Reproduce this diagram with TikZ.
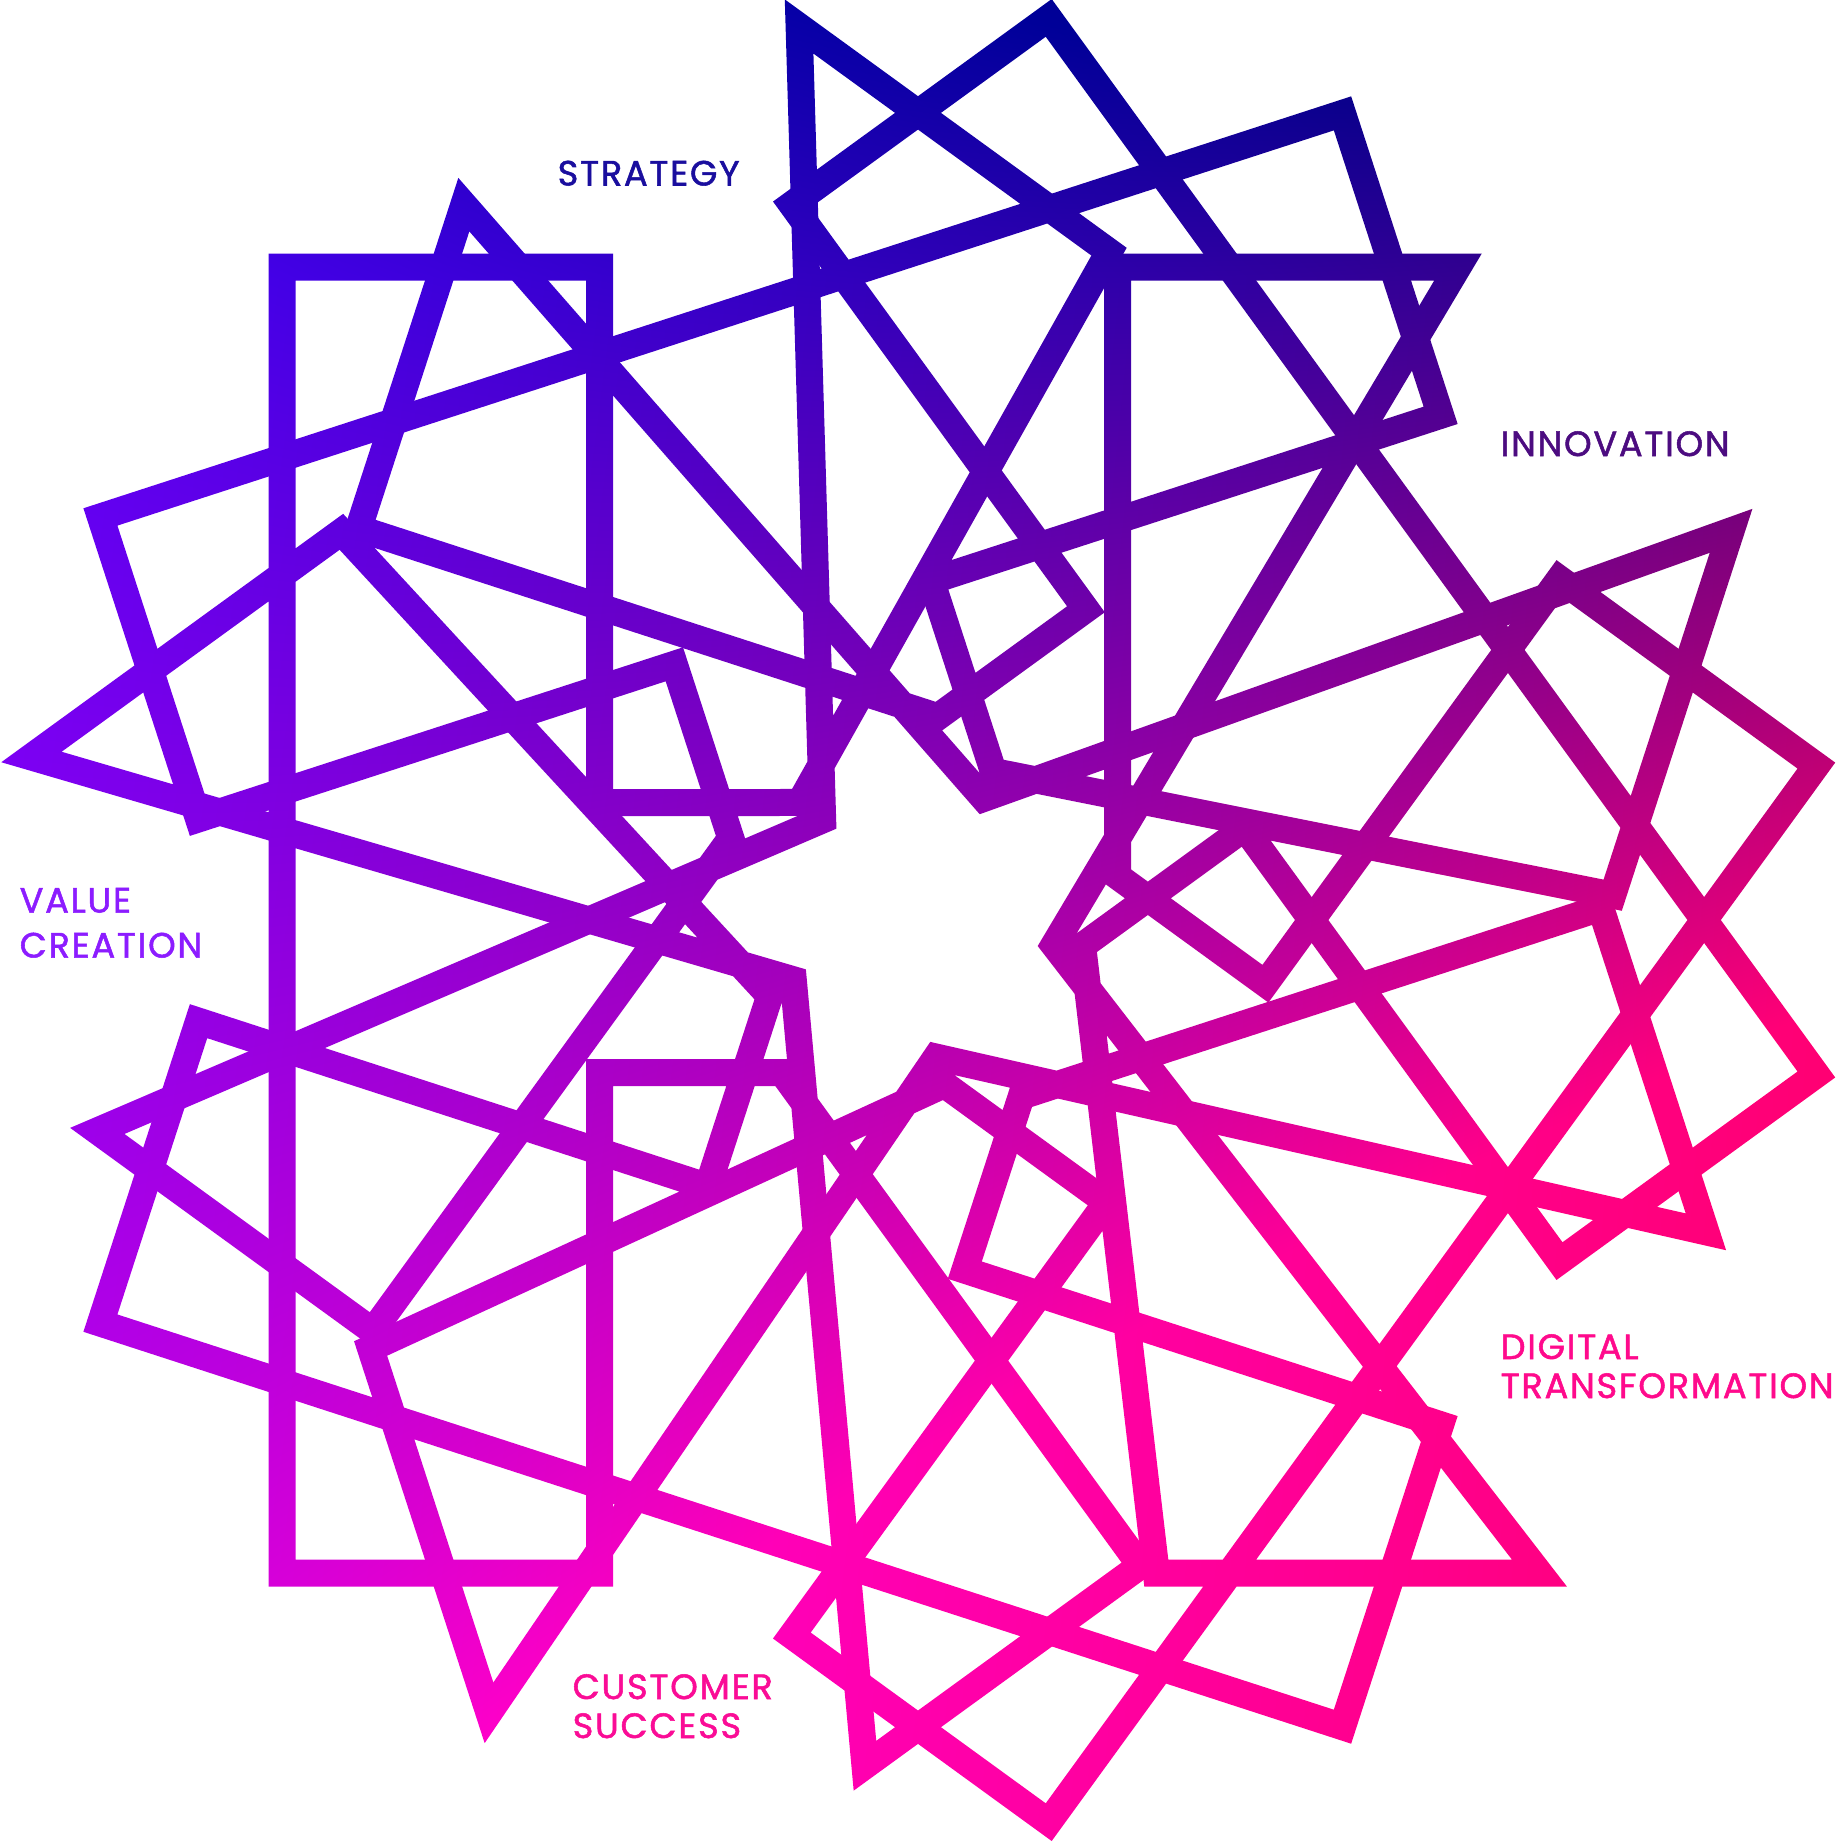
\documentclass[tikz,border=0pt]{standalone}
\usepackage{fontspec}
\newfontfamily\LabelFont[LetterSpace=5, FakeBold=1.5]{Poppins}
\usetikzlibrary{fadings}

\definecolor{StrategyBlue}{RGB}{26,14,158}
\definecolor{InnovationPurple}{RGB}{76,12,128}
\definecolor{ValueViolet}{RGB}{140,28,255}
\definecolor{DigitalPink}{RGB}{255,10,140}
\definecolor{CustomerPink}{RGB}{250,12,150}

% colour of the web: navy at the top, violet on the left, pink at the bottom right
% (u runs 0..1 left to right, w runs 0..1 top to bottom)
\pgfdeclarefunctionalshading{WebColours}{\pgfpointorigin}{\pgfpoint{100bp}{100bp}}{}{
75 exch sub 50 div
exch 25 sub 50 div
2 copy
dup dup mul 0.375 mul
exch 0.65 mul sub 0.231 add
exch
2 index 1.3 mul 0.62 add
mul add
3 1 roll
0.52 mul 0.99 exch sub
exch
dup 0.08 mul 1 exch sub
exch 0.85 add dup 1 gt {pop 1} if
mul mul
0 exch
}

% the strokes of the web, used as a mask for the colours
\begin{tikzfadingfrompicture}[name=StarWeb, x=0.1mm, y=-0.1mm,
  WebLine/.style={draw=transparent!0, line width=2.7mm, line join=miter, line cap=rect}]
\useasboundingbox (0,0) rectangle (1836,1845);
\coordinate (C) at (918,920);
% one bar and two triangles per arm, the arm is turned by 72 degrees
\foreach \k in {0,...,4}{
  \begin{scope}[rotate around={72*\k:(C)}]
    % the bar
    \coordinate (J\k) at (599.5,802.5);
    \coordinate (TR\k) at (599.5,267);
    \coordinate (TL\k) at (282,267);
    \coordinate (BL\k) at (282,1573);
    \coordinate (BR\k) at (599.5,1573);
    \coordinate (VS\k) at (599.5,1072.7);
    % the right triangle and the slim triangle
    \coordinate (L\k) at (1117.5,876.2);
    \coordinate (A\k) at (1117.5,267);
    \coordinate (P\k) at (1458,267);
    \coordinate (K\k) at (1054,945);
    \coordinate (B\k) at (1539.4,1573);
    \coordinate (S\k) at (1156.3,1573);
    \coordinate (Q\k) at (1082.6,945.7);
  \end{scope}
}
\foreach \k [evaluate=\k as \m using {int(mod(\k+3,5))},
             evaluate=\k as \n using {int(mod(\k+1,5))}] in {0,...,4}
  \draw[WebLine] (J\k) -- (TR\k) -- (TL\k) -- (BL\k) -- (BR\k) -- (VS\k)
    -- (L\m) -- (A\m) -- (P\m) -- (K\m) -- (B\m) -- (S\m) -- (Q\m) -- (J\n);
\end{tikzfadingfrompicture}

\begin{document}
\begin{tikzpicture}[x=0.1mm, y=-0.1mm,
  LabelText/.style={font=\LabelFont\fontsize{10}{12}\selectfont, inner sep=0pt, anchor=base west}]
\useasboundingbox (0,0) rectangle (1836,1845);

\shade[path fading=StarWeb, fit fading=false, fading transform={shift={(918,922.5)}},
  shading=WebColours] (0,0) rectangle (1836,1845);

\node[LabelText, text=StrategyBlue] (strategy) at (557,185.5) {STRATEGY};
\node[LabelText, text=InnovationPurple] (innovation) at (1500,456) {INNOVATION};
\node[LabelText, text=ValueViolet] (value) at (19,912.5) {VALUE};
\node[LabelText, text=ValueViolet] (creation) at (19,957.5) {CREATION};
\node[LabelText, text=DigitalPink] (digital) at (1500,1359) {DIGITAL};
\node[LabelText, text=DigitalPink] (transformation) at (1500,1398) {TRANSFORMATION};
\node[LabelText, text=CustomerPink] (customer) at (572,1699) {CUSTOMER};
\node[LabelText, text=CustomerPink] (success) at (572,1738) {SUCCESS};
\end{tikzpicture}
\end{document}
